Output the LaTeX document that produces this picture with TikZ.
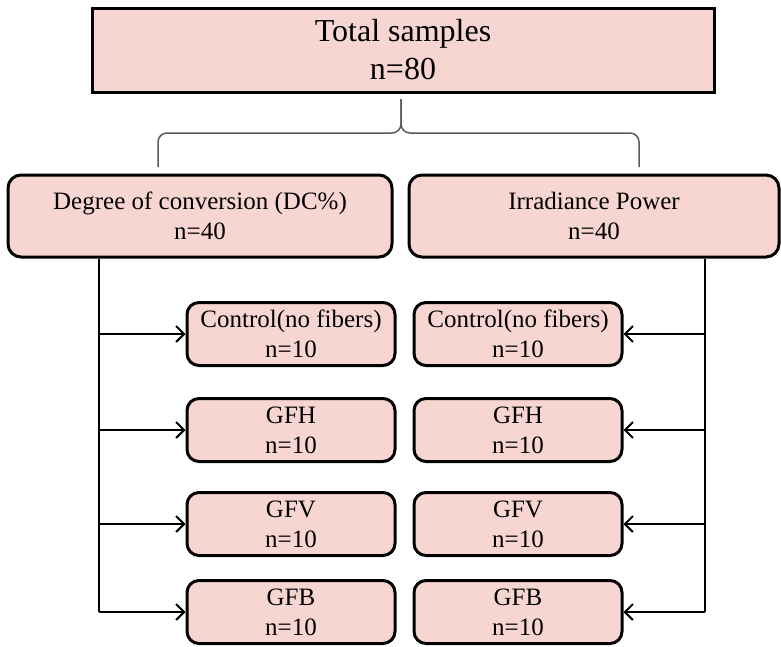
\documentclass[tikz,border=0pt]{standalone}
\usepackage{fontspec}
\setmainfont{Liberation Serif}
\usetikzlibrary{arrows.meta}
\definecolor{boxpink}{RGB}{247,214,209}
\definecolor{bracegray}{RGB}{90,90,90}

\begin{document}
\begin{tikzpicture}[x=1pt, y=-1pt,
    every node/.style={font=\fontsize{25}{30}\selectfont, align=center, inner sep=0pt},
    totalbox/.style={draw, line width=3pt, fill=boxpink, minimum width=622pt, minimum height=84pt, font=\fontsize{32}{38}\selectfont},
    groupbox/.style={draw, line width=3pt, fill=boxpink, rounded corners=13pt, minimum height=82pt},
    subbox/.style={draw, line width=3pt, fill=boxpink, rounded corners=12pt, minimum width=208pt, minimum height=63pt},
    trunk/.style={line width=2pt},
    feed/.style={trunk, -{Straight Barb[length=8pt,width=16pt,line width=2pt]}},
    brace/.style={bracegray, line width=1.5pt, rounded corners=9pt}]
    \useasboundingbox (0,0) rectangle (781,646);
    % total and the two groups
    \node[totalbox] (total) at (403,50) {Total samples\\n=80};
    \node[groupbox, minimum width=384pt] (dc) at (200,216) {Degree of conversion (DC\%)\\n=40};
    \node[groupbox, minimum width=370pt] (irr) at (594,216) {Irradiance Power\\n=40};
    % brace under the total
    \coordinate (brace-top) at (401,99);
    \coordinate (brace-mid) at (401,133);
    \draw[brace] (158,167) -- (158,133) -- (brace-mid) -- (brace-top);
    \draw[brace] (639,167) -- (639,133) -- (brace-mid) -- (brace-top);
    % the four subgroups on each side
    \foreach \name/\label/\y in {ctrl/Control(no fibers)/334, gfh/GFH/430, gfv/GFV/524, gfb/GFB/612} {
        \node[subbox] (dc-\name) at (291,\y) {\label\\n=10};
        \node[subbox] (irr-\name) at (518,\y) {\label\\n=10};
    }
    \coordinate (dc-trunk) at (99,0 |- dc.south);
    \coordinate (irr-trunk) at (705,0 |- irr.south);
    \draw[trunk] (dc-trunk) -- (dc-trunk |- dc-gfb.west);
    \draw[trunk] (irr-trunk) -- (irr-trunk |- irr-gfb.east);
    \foreach \name in {ctrl,gfh,gfv,gfb} {
        \draw[feed] (dc-trunk |- dc-\name.west) -- (dc-\name.west);
        \draw[feed] (irr-trunk |- irr-\name.east) -- (irr-\name.east);
    }
\end{tikzpicture}
\end{document}
